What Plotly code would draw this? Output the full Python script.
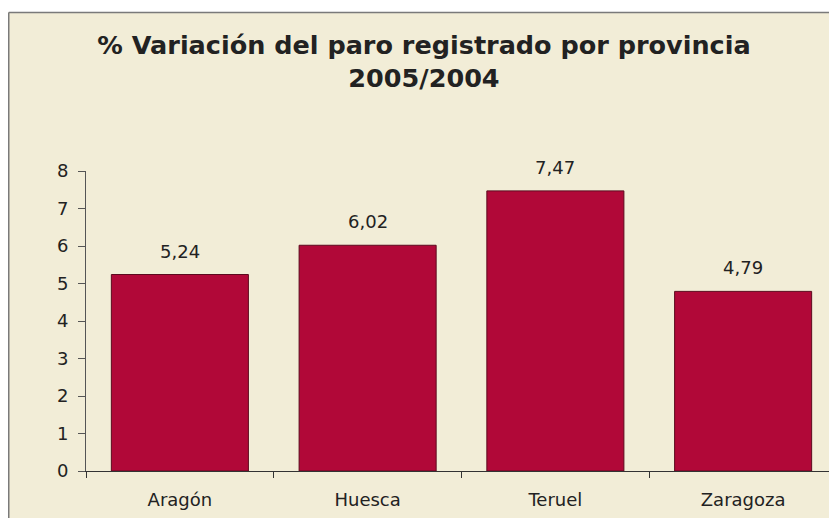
import plotly.graph_objects as go

categories = ["Aragón", "Huesca", "Teruel", "Zaragoza"]
values = [5.24, 6.02, 7.47, 4.79]
value_labels = ["5,24", "6,02", "7,47", "4,79"]
title_text = "<b>% Variación del paro registrado por provincia<br>2005/2004</b>"

# the page body adds an 8px offset, so the figure is drawn 8px smaller
W, H = 829, 510
L, R, T, B = 78, 0, 163, 47
pw = W - L - R
ph = H - T - B

def px_x(px):
    return (px - L) / pw

def px_y(py):
    return (H - B - py) / ph

cream = "#F2EDD7"
font = "DejaVu Sans"

fig = go.Figure(go.Bar(
    x=categories, y=values,
    marker=dict(color="#B10838", line=dict(color="#5C0A1E", width=1)),
    hoverinfo="x+y",
))

for c, v, t in zip(categories, values, value_labels):
    fig.add_annotation(x=c, y=v, text=t, showarrow=False, yanchor="bottom", yshift=11,
                       font=dict(size=18, color="#222222", family=font))

shapes = [
    dict(type="rect", xref="paper", yref="paper", x0=px_x(0), x1=px_x(840), y0=px_y(520), y1=px_y(4),
         fillcolor=cream, line=dict(width=0), layer="below"),
    dict(type="line", xref="paper", yref="paper", x0=px_x(0.75), x1=px_x(0.75), y0=px_y(520), y1=px_y(4.5),
         line=dict(color="#7A7A7A", width=1.5)),
    dict(type="line", xref="paper", yref="paper", x0=px_x(0.75), x1=px_x(840), y0=px_y(4.5), y1=px_y(4.5),
         line=dict(color="#7A7A7A", width=1.5)),
]

fig.update_layout(
    width=W, height=H,
    margin=dict(l=L, r=R, t=T, b=B),
    paper_bgcolor="white", plot_bgcolor=cream,
    title=dict(text=title_text, x=416 / W, xanchor="center", y=1 - 46 / H, yanchor="middle",
               font=dict(size=25.5, color="#222222", family=font)),
    bargap=0.27,
    showlegend=False,
    shapes=shapes,
    font=dict(family=font, size=18, color="#222222"),
)
fig.update_xaxes(showline=True, linecolor="#333333", linewidth=1, ticks="outside", tickson="boundaries",
                 ticklen=6, tickcolor="#333333", tickfont=dict(size=18, family=font, color="#222222"),
                 ticklabelstandoff=12, showgrid=False)
fig.update_yaxes(range=[0, 8], dtick=1, showline=True, linecolor="#555555", linewidth=1, ticks="outside",
                 ticklen=7, tickcolor="#555555", showgrid=False, zeroline=False, ticklabelstandoff=6,
                 tickfont=dict(size=18, family=font, color="#222222"))

fig.write_html("out.html")
